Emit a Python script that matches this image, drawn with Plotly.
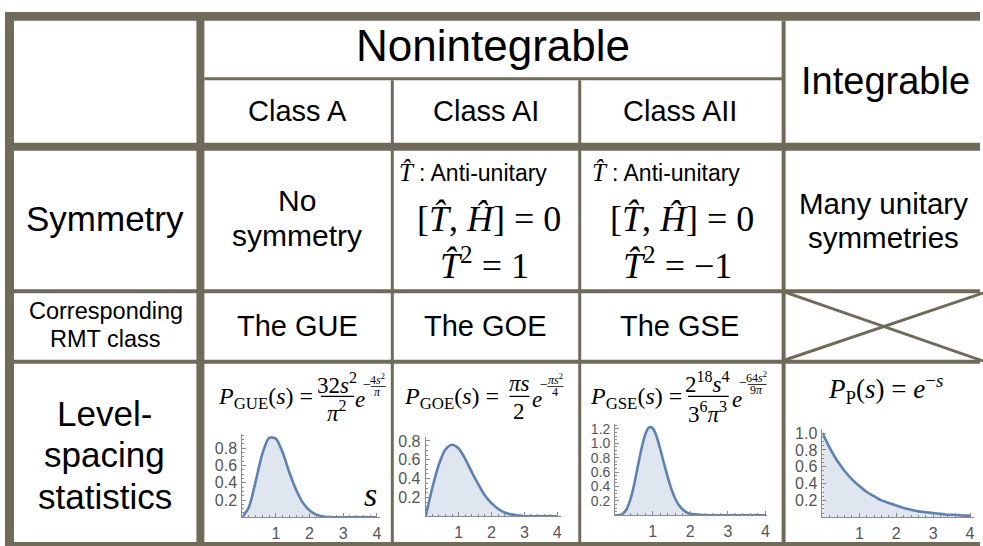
import plotly.graph_objects as go

W, H = 983, 546
LINE = "#6f6a5a"
BLUE = "#5e81b5"
FILL = "rgba(94,129,181,0.2)"
SANS = "Liberation Sans, Arial, sans-serif"
SERIF = "Liberation Serif, Times New Roman, serif"

# level-spacing curves, values
s_grid = [0.0, 0.2, 0.4, 0.6, 0.8, 1.0, 1.2, 1.4, 1.6, 1.8, 2.0,
          2.2, 2.4, 2.6, 2.8, 3.0, 3.2, 3.4, 3.6, 3.8, 4.0]
p_gue = [0, 0.12, 0.42, 0.74, 0.92, 0.91, 0.75, 0.52, 0.32, 0.17, 0.08,
         0.03, 0.01, 0, 0, 0, 0, 0, 0, 0, 0]
p_goe = [0, 0.30, 0.55, 0.71, 0.76, 0.72, 0.61, 0.47, 0.34, 0.22, 0.14,
         0.08, 0.04, 0.02, 0.01, 0, 0, 0, 0, 0, 0]
s_gse = [0, 0.1, 0.2, 0.3, 0.4, 0.5, 0.6, 0.7, 0.8, 0.9, 1.0, 1.1, 1.2,
         1.3, 1.4, 1.5, 1.6, 1.7, 1.8, 1.9, 2.0, 2.2, 2.4, 3.0, 4.0]
p_gse = [0, 0, 0.02, 0.08, 0.21, 0.41, 0.67, 0.92, 1.12, 1.22, 1.21, 1.10, 0.92,
         0.72, 0.53, 0.36, 0.23, 0.14, 0.08, 0.04, 0.02, 0.01, 0, 0, 0]
p_poisson = [1.0, 0.82, 0.67, 0.55, 0.45, 0.37, 0.30, 0.25, 0.20, 0.17, 0.14,
             0.11, 0.09, 0.07, 0.06, 0.05, 0.04, 0.03, 0.03, 0.02, 0.02]

x_ticks = [1, 2, 3, 4]
y_ticks_gue = [0.2, 0.4, 0.6, 0.8]
y_ticks_gse = [0.2, 0.4, 0.6, 0.8, 1.0, 1.2]
y_ticks_poisson = [0.2, 0.4, 0.6, 0.8, 1.0]

column_heads = ["Class A", "Class AI", "Class AII"]
rmt_classes = ["The GUE", "The GOE", "The GSE"]

shapes = []
annotations = []


def X(p):
    return p / W


def Y(p):
    return 1 - p / H


def bar(x0, y0, x1, y1):
    shapes.append(dict(type="rect", xref="paper", yref="paper",
                       x0=X(x0), x1=X(x1), y0=Y(y1), y1=Y(y0),
                       fillcolor=LINE, line=dict(width=0), layer="above"))


def seg(x0, y0, x1, y1, color="black", width=1.2):
    shapes.append(dict(type="line", xref="paper", yref="paper",
                       x0=X(x0), x1=X(x1), y0=Y(y0), y1=Y(y1),
                       line=dict(color=color, width=width), layer="above"))


def txt(x, y, text, size, family=SANS, xanchor="center", color="black"):
    annotations.append(dict(x=X(x), y=Y(y), xref="paper", yref="paper",
                            text=text, showarrow=False, xanchor=xanchor,
                            yanchor="middle",
                            font=dict(size=size, family=family, color=color)))


# table grid
bar(5, 7, W, 16)          # top
bar(5, 7, 14, H)          # left
bar(197, 7, 205, H)       # first column
bar(5, 139, W, 147)       # under header
bar(205, 73, 786, 76)     # under "Nonintegrable"
bar(392, 76, 395, H)
bar(580, 76, 583, H)
bar(784, 16, 788, H)
bar(5, 287, W, 291)
bar(5, 358, W, 362)
bar(5, 542, W, H)         # bottom
seg(788, 290, 988, 360, LINE, 3)
seg(788, 358, 988, 290, LINE, 3)

# header
txt(495, 41, "Nonintegrable", 44)
txt(888, 77, "Integrable", 38)
for cx, name in zip([298, 487, 682], column_heads):
    txt(cx, 107, name, 29)

# row labels
txt(105, 215, "Symmetry", 35)
txt(106, 309, "Corresponding", 23.5)
txt(106, 337, "RMT class", 23.5)
txt(105, 412, "Level-", 35)
txt(105, 454, "spacing", 35)
txt(105, 496, "statistics", 35)

# symmetry row
txt(298, 197, "No", 30)
txt(298, 233, "symmetry", 30)
txt(886, 200, "Many unitary", 29.5)
txt(886, 235, "symmetries", 29.5)
for cx, sq in [(488, "1"), (682, "\u22121")]:
    txt(cx - 80, 169, "<i>T\u0302</i>", 25, SERIF)
    txt(cx - 70, 170, ": Anti-unitary", 23, SANS, xanchor="left")
    txt(cx + 2, 216, "[<i>T\u0302</i>, <i>\u0124</i>] = 0", 36, SERIF)
    txt(cx - 2, 261, "<i>T\u0302</i><sup>2</sup> = " + sq, 36, SERIF)

# RMT row
for cx, name in zip([298, 487, 682], rmt_classes):
    txt(cx, 324, name, 29)

# formulas
txt(316, 397, "<i>P</i><sub>GUE</sub>(<i>s</i>) =", 24, SERIF, xanchor="right")
txt(338, 382, "32<i>s</i><sup>2</sup>", 23, SERIF)
seg(322, 395, 355, 395)
txt(338, 410, "<i>\u03c0</i><sup>2</sup>", 23, SERIF)
txt(361, 398, "<i>e</i>", 23, SERIF)
txt(368, 383, "\u2212", 14, SERIF)
txt(379, 378, "4<i>s</i><sup>2</sup>", 12, SERIF)
seg(372, 385, 387, 385, width=0.8)
txt(379, 391, "<i>\u03c0</i>", 12, SERIF)

txt(503, 397, "<i>P</i><sub>GOE</sub>(<i>s</i>) =", 24, SERIF, xanchor="right")
txt(521, 382, "<i>\u03c0s</i>", 23, SERIF)
seg(511, 395, 531, 395)
txt(521, 410, "2", 23, SERIF)
txt(539, 398, "<i>e</i>", 23, SERIF)
txt(546, 383, "\u2212", 14, SERIF)
txt(557, 378, "<i>\u03c0s</i><sup>2</sup>", 12, SERIF)
seg(549, 385, 565, 385, width=0.8)
txt(557, 391, "4", 12, SERIF)

txt(686, 397, "<i>P</i><sub>GSE</sub>(<i>s</i>) =", 24, SERIF, xanchor="right")
txt(710, 381, "2<sup>18</sup><i>s</i><sup>4</sup>", 23, SERIF)
seg(690, 395, 731, 395)
txt(710, 411, "3<sup>6</sup><i>\u03c0</i><sup>3</sup>", 23, SERIF)
txt(739, 398, "<i>e</i>", 23, SERIF)
txt(745, 381, "\u2212", 14, SERIF)
txt(759, 376, "64<i>s</i><sup>2</sup>", 12, SERIF)
seg(750, 383, 769, 383, width=0.8)
txt(759, 389, "9<i>\u03c0</i>", 12, SERIF)

txt(888, 388, "<i>P</i><sub>P</sub>(<i>s</i>) = <i>e</i><sup>\u2212<i>s</i></sup>", 27, SERIF)
txt(372, 494, "<i>s</i>", 34, SERIF)

# small plots: data, y ticks, origin px, px per unit, axis ends, y tick font
plots = [
    (s_grid, p_gue, y_ticks_gue, 243, 517, 33.75, 87, 4.1, 0.97, 16),
    (s_grid, p_goe, y_ticks_gue, 427, 516, 33, 95, 4.1, 0.84, 16),
    (s_gse, p_gse, y_ticks_gse, 617, 515, 37.7, 72.7, 4.05, 1.27, 14),
    (s_grid, p_poisson, y_ticks_poisson, 825, 517, 37, 85, 4.1, 1.05, 16),
]

fig = go.Figure()
layout_axes = {}
for i, (xs, ys, yt, ox, oy, xpx, ypx, xmax, ymax, yfs) in enumerate(plots, start=2):
    fig.add_trace(go.Scatter(
        x=xs, y=ys, mode="lines", xaxis=f"x{i}", yaxis=f"y{i}",
        line=dict(color=BLUE, width=2.6, shape="spline", smoothing=0.8),
        fill="tozeroy", fillcolor=FILL, hoverinfo="skip", showlegend=False,
    ))
    axis_style = dict(showgrid=False, zeroline=False, showline=True,
                      linecolor="#8a8a8a", linewidth=1, ticks="inside",
                      ticklen=4, tickcolor="#8a8a8a", fixedrange=True)
    layout_axes[f"xaxis{i}"] = dict(
        axis_style, domain=[X(ox), X(ox + xmax * xpx)], range=[0, xmax],
        anchor=f"y{i}", tickvals=x_ticks, ticklabelstandoff=2,
        tickfont=dict(size=16, family=SANS, color="#555555"),
        minor=dict(ticks="inside", ticklen=2, dtick=0.2, tickcolor="#8a8a8a"))
    layout_axes[f"yaxis{i}"] = dict(
        axis_style, domain=[Y(oy), Y(oy - ymax * ypx)], range=[0, ymax],
        anchor=f"x{i}", tickvals=yt, tickformat=".1f", ticklabelstandoff=1,
        tickfont=dict(size=yfs, family=SANS, color="#555555"),
        minor=dict(ticks="inside", ticklen=2, dtick=0.05, tickcolor="#8a8a8a"))

fig.update_layout(
    width=W, height=H,
    margin=dict(l=0, r=0, t=0, b=0),
    paper_bgcolor="white", plot_bgcolor="rgba(0,0,0,0)",
    showlegend=False,
    shapes=shapes, annotations=annotations,
    **layout_axes,
)

fig.write_html("out.html", config={"displayModeBar": False},
               post_script="document.body.style.margin='0px';")
